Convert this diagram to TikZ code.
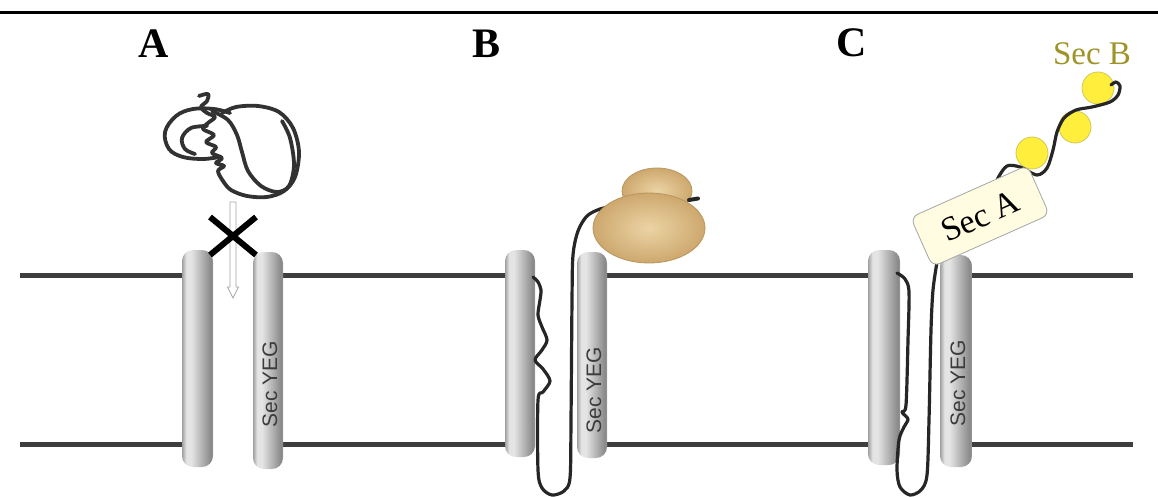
\documentclass[tikz,border=0pt]{standalone}
\usepackage{fontspec}
\setmainfont{Liberation Serif}
\newfontfamily\labelsans{Liberation Sans}
\usetikzlibrary{shapes.geometric}

\definecolor{membrane}{RGB}{62,62,62}
\definecolor{cylA}{RGB}{160,160,160}
\definecolor{cylB}{RGB}{228,228,228}
\definecolor{cylC}{RGB}{138,138,138}
\definecolor{cylD}{RGB}{175,175,175}
\definecolor{chaincol}{RGB}{38,38,38}
\definecolor{tanglecol}{RGB}{50,50,50}
\definecolor{riboin}{RGB}{236,212,165}
\definecolor{ribout}{RGB}{205,168,110}
\definecolor{riboedge}{RGB}{185,150,95}
\definecolor{secayellow}{RGB}{255,252,225}
\definecolor{secbcol}{RGB}{158,148,40}
\definecolor{ballfill}{RGB}{255,238,60}
\definecolor{balledge}{RGB}{210,200,90}
\definecolor{yegtext}{RGB}{60,60,60}

% light band left of centre, darker towards the right edge
\pgfdeclarehorizontalshading{cylshade}{100bp}{color(0bp)=(cylA); color(25bp)=(cylA);
  color(32bp)=(cylB); color(40bp)=(cylB); color(71bp)=(cylC); color(73bp)=(cylC);
  color(75bp)=(cylD); color(100bp)=(cylD)}

\tikzset{
  cyl/.style={rectangle, rounded corners=11pt, inner sep=0pt, shading=cylshade},
  memline/.style={draw=membrane, line width=5pt},
  chain/.style={draw=chaincol, line width=3.2pt, line cap=round, line join=round},
  tangle/.style={draw=tanglecol, line width=3.8pt, line cap=round, line join=round},
  panellabel/.style={anchor=base, font=\fontsize{42}{42}\selectfont\bfseries},
  yeg/.style={rotate=90, text=yegtext, font=\labelsans\fontsize{21}{21}\selectfont},
  ribo/.style={ellipse, inner sep=0pt, draw=riboedge, line width=0.8pt, shading=radial,
    inner color=riboin, outer color=ribout},
  ball/.style={circle, inner sep=0pt, minimum size=32pt, fill=ballfill, draw=balledge, line width=0.8pt},
}

\begin{document}
\begin{tikzpicture}[x=1pt, y=-1pt]
\fill[white] (0,0) rectangle (1158,497);
\path[use as bounding box] (0,0) rectangle (1158,497);

% rule across the top
\draw[black, line width=3pt] (0,12.5) -- (1158,12.5);

% panel letters
\node[panellabel] (labA) at (154,58) {A};
\node[panellabel] (labB) at (486,58) {B};
\node[panellabel] (labC) at (852,57) {C};

% membrane bilayer, interrupted between each channel pair
\foreach \yy in {275,444}{
  \draw[memline] (20,\yy) -- (198,\yy);
  \draw[memline] (268,\yy) -- (520,\yy);
  \draw[memline] (592,\yy) -- (884,\yy);
  \draw[memline] (956,\yy) -- (1133,\yy);
}

% channel helices
\node[cyl, minimum width=31pt, minimum height=217pt] (A1) at (197.5,358.5) {};
\node[cyl, minimum width=30pt, minimum height=217pt] (A2) at (268,360.5) {};
\node[cyl, minimum width=30pt, minimum height=207pt] (B1) at (520,353.5) {};
\node[cyl, minimum width=30pt, minimum height=206pt] (B2) at (592,355) {};
\node[cyl, minimum width=32pt, minimum height=215pt] (C1) at (884,357.5) {};
\node[cyl, minimum width=32pt, minimum height=212pt] (C2) at (956,361) {};

\node[yeg] (yegA) at (270,384) {Sec YEG};
\node[yeg] (yegB) at (594,390) {Sec YEG};
\node[yeg] (yegC) at (958,383) {Sec YEG};

% ---- A: folded protein cannot pass ----
\draw[tangle] plot[smooth, tension=0.55] coordinates {
  (199,96) (208,94) (207,101) (201,107) (207,113) (215,117) (208,123) (203,129)
  (214,135) (206,142) (216,147) (212,153) (222,158) (216,163) (224,166) (218,171)
  (223,181) (231,190) (247,196) (267,197) (284,191) (295,177) (299,152) (293,128)
  (279,112) (258,106) (236,107) (222,113)};
\draw[tangle] plot[smooth, tension=0.6] coordinates {
  (230,113) (214,109) (193,109) (176,116) (165,132) (169,149) (183,157) (203,159) (219,157)};
\draw[tangle] plot[smooth, tension=0.6] coordinates {
  (207,126) (191,128) (182,138) (185,149) (195,154)};
\draw[tangle] plot[smooth, tension=0.55] coordinates {
  (212,111) (228,120) (237,135) (242,152) (248,171) (261,186) (277,192) (289,186)
  (294,165) (290,138) (282,121)};

\draw[draw=black!35, fill=white, line width=0.8pt]
  (230,202) -- (236,202) -- (236,287) -- (238.5,287) -- (233,298) -- (227.5,287) -- (230,287) -- cycle;
\draw[black, line width=6pt] (210,217) -- (256,255);
\draw[black, line width=6pt] (256,217) -- (210,255);

% ---- B: ribosome-bound chain threading the channel ----
\draw[chain] plot[smooth, tension=0.5] coordinates {
  (614,206) (600,209) (587,216) (578,231) (573,255) (572,300) (571,420) (570,478)
  (564,491) (552,495) (542,488) (538,470) (538,400) (543,392) (550,381) (543,369)
  (535,360) (542,350) (547,340) (542,327) (538,315) (540,300) (541,290) (538,282) (533,277)};
\node[ribo, minimum width=70pt, minimum height=46pt] (riboS) at (657,191) {};
\node[ribo, minimum width=112pt, minimum height=70pt] (riboL) at (649,228) {};
\draw[chain, line width=4pt] (689,200) -- (698,198.5);

% ---- C: SecA / SecB driven translocation ----
\draw[chain] plot[smooth, tension=0.5] coordinates {
  (897,273) (905,279) (909,292) (908,340) (906,405) (902,412) (908,419) (904,427)
  (899,440) (897,470) (900,487) (910,495) (921,490) (927,475) (929,420) (931,330)
  (933,290) (937,262)};
\node[ball] (secB1) at (1032,153) {};
\node[ball] (secB2) at (1075,127) {};
\node[ball] (secB3) at (1098,88) {};
\draw[chain] plot[smooth, tension=0.5] coordinates {
  (993,192) (998,178) (1007,166) (1020,167) (1037,175) (1047,168) (1053,150)
  (1057,132) (1064,118) (1076,110) (1092,107) (1110,102) (1118,95) (1120,86) (1116,82) (1111,85)};
\node[rectangle, rounded corners=8pt, rotate=24, minimum width=128pt, minimum height=54pt,
  fill=secayellow, draw=black!35, line width=0.8pt, inner sep=0pt,
  font=\fontsize{34}{34}\selectfont] (secA) at (980,216) {Sec A};
\node[anchor=base, text=secbcol, font=\fontsize{33}{33}\selectfont] (secBlab) at (1092,65) {Sec B};

\end{tikzpicture}
\end{document}
